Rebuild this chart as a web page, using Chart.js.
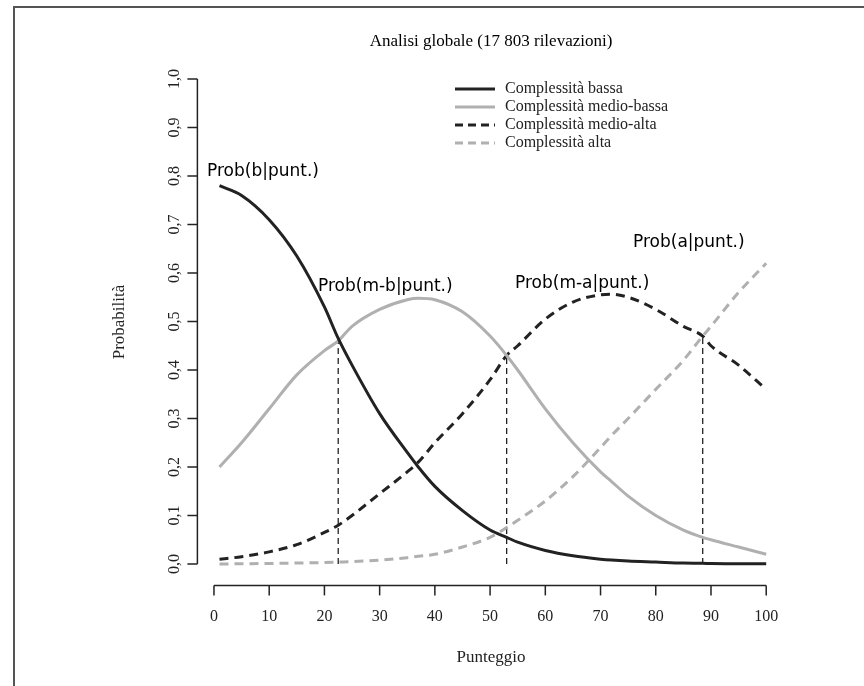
<!DOCTYPE html>
<html lang="it">
<head>
<meta charset="UTF-8">
<title>Analisi globale</title>
<script src="https://cdn.jsdelivr.net/npm/chart.js"></script>
<style>
  body { margin: 0; background: #fff; }
  #wrap { width: 864px; height: 686px; position: relative; }
</style>
</head>
<body>
<div id="wrap"><canvas id="c"></canvas></div>
<script>
// punteggi
const punteggio = [1, 5, 10, 15, 20, 22.5, 25, 30, 35, 37, 40, 45, 50, 53, 55, 60, 65, 70, 72, 75, 80, 85, 88.5, 90, 95, 100];
const bassa     = [0.78, 0.76, 0.71, 0.635, 0.53, 0.465, 0.41, 0.31, 0.23, 0.20, 0.16, 0.11, 0.07, 0.055, 0.045, 0.028, 0.017, 0.01, 0.008, 0.006, 0.004, 0.002, 0.0015, 0.001, 0.0005, 0.0003];
const medioBassa= [0.20, 0.25, 0.32, 0.39, 0.44, 0.46, 0.49, 0.525, 0.545, 0.548, 0.545, 0.52, 0.47, 0.43, 0.40, 0.32, 0.25, 0.19, 0.17, 0.14, 0.10, 0.07, 0.055, 0.05, 0.035, 0.02];
const medioAlta = [0.01, 0.015, 0.025, 0.04, 0.065, 0.08, 0.10, 0.145, 0.19, 0.21, 0.25, 0.31, 0.38, 0.43, 0.45, 0.505, 0.54, 0.555, 0.556, 0.55, 0.525, 0.49, 0.47, 0.45, 0.41, 0.36];
const alta      = [0.0, 0.0005, 0.001, 0.002, 0.003, 0.004, 0.005, 0.008, 0.013, 0.016, 0.02, 0.035, 0.055, 0.075, 0.09, 0.13, 0.18, 0.24, 0.265, 0.30, 0.36, 0.42, 0.47, 0.49, 0.56, 0.62];
const soglie = [22.5, 53, 88.5];
const soglieY = [0.46, 0.43, 0.47];
const xTicks = [0, 10, 20, 30, 40, 50, 60, 70, 80, 90, 100];
const yTicks = [0, 0.1, 0.2, 0.3, 0.4, 0.5, 0.6, 0.7, 0.8, 0.9, 1.0];

const serie = [
  { label: 'Complessità bassa', data: bassa, color: '#222', dash: [] },
  { label: 'Complessità medio-bassa', data: medioBassa, color: '#b0b0b0', dash: [] },
  { label: 'Complessità medio-alta', data: medioAlta, color: '#222', dash: [9, 6] },
  { label: 'Complessità alta', data: alta, color: '#b0b0b0', dash: [9, 6] }
];

const datasets = serie.map(s => ({
  label: s.label,
  data: punteggio.map((x, i) => ({ x: x, y: s.data[i] })),
  borderColor: s.color, borderDash: s.dash, borderWidth: 3,
  pointRadius: 0, cubicInterpolationMode: 'monotone', fill: false
}));
soglie.forEach((x, i) => {
  datasets.push({
    label: 'soglia' + i,
    data: [{ x: x, y: 0 }, { x: x, y: soglieY[i] }],
    borderColor: '#222', borderDash: [6, 4], borderWidth: 1.3,
    pointRadius: 0, fill: false
  });
});

const serif = '"Liberation Serif", "DejaVu Serif", serif';

const decor = {
  id: 'decor',
  afterDraw(chart) {
    const ctx = chart.ctx;
    const xs = chart.scales.x, ys = chart.scales.y;
    const a = chart.chartArea;
    ctx.save();
    // cornice
    ctx.strokeStyle = '#555'; ctx.lineWidth = 2;
    ctx.beginPath(); ctx.moveTo(864, 7); ctx.lineTo(14, 7); ctx.lineTo(14, 686); ctx.stroke();

    ctx.strokeStyle = '#222'; ctx.lineWidth = 1.5; ctx.fillStyle = '#222';
    // asse y
    const y0 = ys.getPixelForValue(0), y1 = ys.getPixelForValue(1);
    ctx.beginPath(); ctx.moveTo(a.left, y0); ctx.lineTo(a.left, y1); ctx.stroke();
    ctx.font = '16px ' + serif;
    yTicks.forEach(v => {
      const py = ys.getPixelForValue(v);
      ctx.beginPath(); ctx.moveTo(a.left, py); ctx.lineTo(a.left - 10, py); ctx.stroke();
      ctx.save(); ctx.translate(a.left - 23, py); ctx.rotate(-Math.PI / 2);
      ctx.textAlign = 'center'; ctx.textBaseline = 'middle';
      ctx.fillText(v.toFixed(1).replace('.', ','), 0, 0);
      ctx.restore();
    });
    // asse x
    const xa = xs.getPixelForValue(0), xb = xs.getPixelForValue(100);
    ctx.beginPath(); ctx.moveTo(xa, a.bottom + 2); ctx.lineTo(xb, a.bottom + 2); ctx.stroke();
    ctx.textAlign = 'center'; ctx.textBaseline = 'middle';
    xTicks.forEach(v => {
      const px = xs.getPixelForValue(v);
      ctx.beginPath(); ctx.moveTo(px, a.bottom + 2); ctx.lineTo(px, a.bottom + 12); ctx.stroke();
      ctx.fillText(String(v), px, a.bottom + 33);
    });
    // titoli
    ctx.font = '17px ' + serif;
    ctx.fillText('Punteggio', 491, 658);
    ctx.save(); ctx.translate(120, 322); ctx.rotate(-Math.PI / 2);
    ctx.fillText('Probabilità', 0, 0); ctx.restore();
    ctx.fillStyle = '#000';
    ctx.fillText('Analisi globale (17 803 rilevazioni)', 491, 42);
    // legenda
    ctx.font = '16px ' + serif; ctx.textAlign = 'left';
    serie.forEach((s, i) => {
      const ly = 89 + i * 18;
      ctx.strokeStyle = s.color; ctx.lineWidth = 3; ctx.setLineDash(s.dash.length ? [8, 5] : []);
      ctx.beginPath(); ctx.moveTo(455, ly); ctx.lineTo(495, ly); ctx.stroke();
      ctx.fillStyle = '#222'; ctx.fillText(s.label, 505, ly);
    });
    ctx.setLineDash([]);
    // etichette
    ctx.font = '17px "DejaVu Sans", sans-serif'; ctx.fillStyle = '#000';
    ctx.fillText('Prob(b|punt.)', 207, 172);
    ctx.fillText('Prob(m-b|punt.)', 318, 287);
    ctx.fillText('Prob(m-a|punt.)', 515, 284);
    ctx.fillText('Prob(a|punt.)', 633, 243);
    ctx.restore();
  }
};

new Chart(document.getElementById('c'), {
  type: 'line',
  data: { datasets: datasets },
  options: {
    responsive: true, maintainAspectRatio: false, animation: false,
    layout: { padding: { left: 197.4, right: 75.7, top: 59.6, bottom: 102.6 } },
    plugins: { legend: { display: false }, tooltip: { enabled: false } },
    scales: {
      x: { type: 'linear', min: -3, max: 104, display: false },
      y: { min: -0.04, max: 1.04, display: false }
    }
  },
  plugins: [decor]
});
</script>
</body>
</html>
